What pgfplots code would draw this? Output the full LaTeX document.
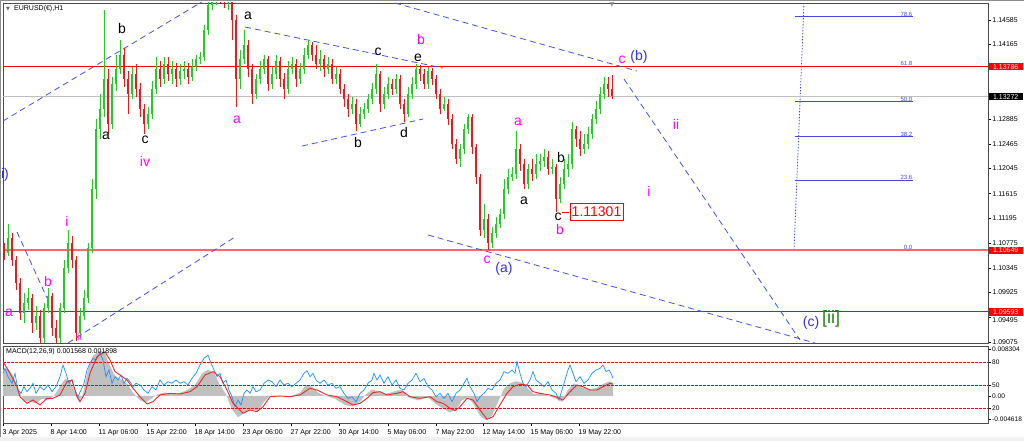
\documentclass[border=0pt]{standalone}
\usepackage{fontspec}
\setmainfont{Liberation Sans}
\newfontfamily\dejavu{DejaVu Sans}
\usepackage{pgfplots}
\usepackage{pgfplotstable}
\pgfplotsset{compat=1.18}
\definecolor{upc}{RGB}{40,200,40}
\definecolor{dnc}{RGB}{235,25,25}
\definecolor{wblue}{RGB}{50,50,225}
\definecolor{lblue}{RGB}{70,80,235}
\definecolor{wmag}{RGB}{255,0,255}
\definecolor{wgreen}{RGB}{40,130,20}
\definecolor{macdgray}{RGB}{192,192,192}
\definecolor{sigred}{RGB}{235,40,40}
\definecolor{stblue}{RGB}{30,144,255}
\definecolor{fibblue}{RGB}{70,70,225}
\newcommand{\tf}{\fontsize{7}{8}\selectfont}
\newcommand{\mf}{\fontsize{6.6}{7}\selectfont}
\newcommand{\wl}{\fontsize{14}{14}\selectfont}

\pgfplotstableread{
x o h l c
8 1.10595 1.11105 1.10544 1.1085
24 1.09575 1.09915 1.09405 1.09745
28 1.09745 1.1000 1.09626 1.0983
36 1.09405 1.09694 1.09286 1.09524
44 1.0915 1.09745 1.09065 1.0966
48 1.0966 1.1000 1.09575 1.09864
60 1.0915 1.09745 1.09065 1.0966
64 1.0966 1.10476 1.09575 1.1034
68 1.1034 1.10986 1.10255 1.10765
80 1.09235 1.0966 1.0915 1.09524
84 1.09524 1.09966 1.09456 1.0983
88 1.0983 1.10765 1.09745 1.1068
92 1.1068 1.1187 1.10595 1.1170
96 1.1170 1.1289 1.1153 1.1272
100 1.1272 1.13315 1.1255 1.1306
104 1.1306 1.1476 1.12924 1.1357
112 1.12805 1.13604 1.1272 1.13485
116 1.13485 1.13995 1.13366 1.1374
120 1.1374 1.1425 1.13655 1.13995
132 1.13315 1.13774 1.1323 1.13655
148 1.12805 1.13094 1.1272 1.12975
152 1.12975 1.13536 1.1289 1.1340
156 1.1340 1.13944 1.13315 1.1374
164 1.1357 1.13944 1.13485 1.13825
172 1.13655 1.13876 1.13485 1.1374
180 1.1357 1.13825 1.13468 1.13706
184 1.13706 1.13876 1.1357 1.1374
192 1.13604 1.1391 1.13536 1.13774
196 1.13774 1.13995 1.13706 1.1391
200 1.1391 1.14046 1.13825 1.13944
204 1.13944 1.14505 1.13876 1.1442
208 1.1442 1.15015 1.14335 1.14845
212 1.14845 1.1510 1.1476 1.1493
216 1.1493 1.15134 1.14845 1.15015
228 1.14896 1.15032 1.1476 1.14964
240 1.1357 1.1408 1.1340 1.1391
244 1.1391 1.1442 1.13825 1.14165
256 1.13315 1.13655 1.1323 1.1357
260 1.1357 1.13876 1.13485 1.1374
264 1.1374 1.13995 1.13655 1.1391
272 1.13485 1.13774 1.1340 1.13655
276 1.13655 1.13995 1.1357 1.13876
288 1.1340 1.13876 1.13315 1.1374
292 1.1374 1.13961 1.13655 1.13825
300 1.1357 1.13842 1.13485 1.1374
304 1.1374 1.14114 1.13655 1.13995
308 1.13995 1.1425 1.1391 1.14165
320 1.13825 1.1408 1.13706 1.1391
328 1.1374 1.13944 1.13655 1.13825
336 1.1357 1.13774 1.13485 1.13655
352 1.1306 1.13264 1.12975 1.13145
360 1.12805 1.13094 1.12754 1.12975
364 1.12975 1.13162 1.1289 1.1306
368 1.1306 1.13315 1.12992 1.1323
372 1.1323 1.13502 1.13145 1.1340
376 1.1340 1.13825 1.13315 1.13655
384 1.13145 1.13434 1.1306 1.13315
388 1.13315 1.13604 1.1323 1.13485
396 1.1340 1.13655 1.13315 1.1357
408 1.12975 1.13434 1.12924 1.13315
412 1.13315 1.13604 1.1323 1.13485
416 1.13485 1.13825 1.1340 1.1374
428 1.13485 1.13774 1.1340 1.13706
444 1.1306 1.13264 1.13026 1.13145
460 1.1221 1.12465 1.12074 1.1238
464 1.1238 1.12805 1.12295 1.1272
468 1.1272 1.12975 1.12635 1.12924
484 1.10986 1.11445 1.1085 1.1119
492 1.10765 1.11054 1.1068 1.10935
496 1.10935 1.11224 1.1085 1.11105
500 1.11105 1.1136 1.1102 1.11275
504 1.11275 1.1187 1.1119 1.1170
508 1.1170 1.1204 1.11615 1.11904
512 1.11904 1.12074 1.11836 1.11955
516 1.11955 1.12686 1.1187 1.1238
528 1.11785 1.12125 1.1170 1.1204
536 1.11955 1.12295 1.1187 1.12125
540 1.12125 1.12295 1.12006 1.12176
544 1.12176 1.1238 1.12074 1.12244
552 1.1204 1.1221 1.11955 1.12074
560 1.1153 1.11904 1.11462 1.11785
564 1.11785 1.1221 1.1170 1.1204
568 1.1204 1.12295 1.11904 1.12125
572 1.12125 1.12839 1.1204 1.1272
584 1.1238 1.12635 1.12295 1.12465
588 1.12465 1.12754 1.1238 1.12635
592 1.12635 1.12975 1.1255 1.1289
596 1.1289 1.13196 1.12805 1.1306
600 1.1306 1.13434 1.12975 1.13315
604 1.13315 1.13604 1.1323 1.13485
}\uptab

\pgfplotstableread{
x o h l c
4 1.1068 1.10765 1.10476 1.10595
12 1.1085 1.10935 1.10374 1.10476
16 1.10476 1.10544 1.09966 1.10085
20 1.10085 1.1017 1.09456 1.09575
32 1.0983 1.09898 1.09235 1.09405
40 1.09524 1.09626 1.09048 1.0915
52 1.09864 1.09915 1.09184 1.0932
56 1.0932 1.09456 1.09048 1.0915
72 1.10765 1.10884 1.1034 1.10476
76 1.10476 1.10544 1.09099 1.09235
108 1.1357 1.1374 1.12635 1.12805
124 1.13995 1.14114 1.13434 1.1357
128 1.1357 1.13706 1.12975 1.13315
136 1.13655 1.13825 1.13264 1.1340
140 1.1340 1.13502 1.12924 1.1306
144 1.1306 1.13145 1.12635 1.12805
160 1.1374 1.13876 1.13434 1.1357
168 1.13825 1.13944 1.13536 1.13655
176 1.1374 1.13842 1.13434 1.1357
188 1.1374 1.13842 1.13485 1.13604
220 1.15015 1.1510 1.14879 1.14981
224 1.14981 1.15066 1.14794 1.14896
232 1.14964 1.15015 1.1425 1.1459
236 1.1459 1.14675 1.13094 1.1357
248 1.14165 1.1425 1.13604 1.1374
252 1.1374 1.13825 1.13145 1.13315
268 1.1391 1.13978 1.13366 1.13485
280 1.13876 1.13944 1.13434 1.1357
284 1.1357 1.13672 1.1323 1.1340
296 1.13825 1.1391 1.13434 1.1357
312 1.14165 1.14216 1.13876 1.13995
316 1.13995 1.14165 1.1374 1.13825
324 1.1391 1.13995 1.13604 1.1374
332 1.13825 1.1391 1.13485 1.1357
340 1.13655 1.1374 1.13315 1.1340
344 1.1340 1.13485 1.13094 1.1323
348 1.1323 1.13315 1.12924 1.1306
356 1.13145 1.1323 1.12686 1.12805
380 1.13655 1.13706 1.13009 1.13145
392 1.13485 1.1357 1.13298 1.1340
400 1.1357 1.13638 1.1306 1.13145
404 1.13145 1.1323 1.12839 1.12975
420 1.1374 1.13808 1.13536 1.13655
424 1.13655 1.1374 1.1340 1.13485
432 1.13706 1.13757 1.13468 1.1357
436 1.1357 1.13638 1.1323 1.13315
440 1.13315 1.1340 1.12975 1.1306
448 1.13145 1.1323 1.12788 1.1289
452 1.1289 1.12975 1.1238 1.12465
456 1.12465 1.1255 1.12125 1.1221
472 1.12924 1.12975 1.12295 1.12414
476 1.12414 1.12465 1.11785 1.11904
480 1.11904 1.11955 1.10884 1.10986
488 1.1119 1.11275 1.1065 1.10765
520 1.1238 1.12465 1.12006 1.12125
524 1.12125 1.1221 1.1170 1.11785
532 1.1204 1.1221 1.11836 1.11955
548 1.12244 1.12346 1.11938 1.1204
556 1.12074 1.12125 1.1130 1.1153
576 1.1272 1.12771 1.12414 1.1255
580 1.1255 1.12686 1.12261 1.1238
608 1.13485 1.13604 1.13264 1.1340
612 1.1340 1.13638 1.1323 1.13281
}\dntab

\begin{document}
\begin{tikzpicture}
\useasboundingbox (0,0) rectangle (1024pt,441pt);
\fill[white] (0,0) rectangle (1024pt,441pt);
\fill[black!6] (0,0) rectangle (1024pt,4pt);
\draw[black!45, line width=1pt] (0.5pt,4pt) -- (0.5pt,440.5pt) -- (1024pt,440.5pt);

\begin{axis}[
  at={(3pt,98pt)}, anchor=south west, scale only axis,
  width=985pt, height=340pt,
  xmin=3, xmax=988, ymin=1.09062, ymax=1.14876,
  clip mode=individual,
  xtick=\empty,
  ytick={1.14585,1.14165,1.13745,1.13325,1.12885,1.12465,1.12045,1.11615,1.11195,1.10775,1.10345,1.09925,1.09495,1.09075},
  yticklabels={1.14585,1.14165,,,1.12885,1.12465,1.12045,1.11615,1.11195,1.10775,1.10345,1.09925,,1.09075},
  scaled y ticks=false,
  ytick pos=right, yticklabel pos=right,
  tick align=outside, major tick length=3pt,
  tick style={black, line width=0.5pt},
  y tick label style={font=\tf, anchor=west, inner xsep=1.2pt},
  axis line style={black!70, line width=0.8pt},
]
% fib levels
\addplot[fibblue, line width=1pt] coordinates {(795,1.14639) (913,1.14639)};
\addplot[fibblue, line width=1pt] coordinates {(795,1.13786) (913,1.13786)};
\addplot[fibblue, line width=1pt] coordinates {(795,1.13187) (913,1.13187)};
\addplot[fibblue, line width=1pt] coordinates {(795,1.12588) (913,1.12588)};
\addplot[fibblue, line width=1pt] coordinates {(795,1.11847) (913,1.11847)};
\addplot[fibblue, line width=1pt] coordinates {(795,1.10649) (913,1.10649)};
\addplot[fibblue, line width=0.8pt, dash pattern=on 1.5pt off 1.5pt] coordinates {(794,1.10649) (804,1.14876)};
% horizontal lines
\addplot[black!25, line width=0.8pt] coordinates {(3,1.13272) (988,1.13272)};
\addplot[red, line width=0.9pt] coordinates {(3,1.13786) (988,1.13786)};
\addplot[red!60, line width=1.6pt] coordinates {(3,1.10649) (988,1.10649)};
\addplot[red, line width=0.9pt] coordinates {(3,1.09593) (988,1.09593)};
% trend lines
\addplot[lblue, line width=0.8pt, dash pattern=on 6pt off 4pt] coordinates {(3,1.12858) (205,1.14927)};
\addplot[lblue, line width=0.8pt, dash pattern=on 6pt off 4pt] coordinates {(17,1.10960) (47,1.09831)};
\addplot[lblue, line width=0.8pt, dash pattern=on 6pt off 4pt] coordinates {(68,1.09062) (235,1.10874)};
\addplot[lblue, line width=0.8pt, dash pattern=on 6pt off 4pt] coordinates {(245,1.14465) (443,1.13764)};
\addplot[lblue, line width=0.8pt, dash pattern=on 6pt off 4pt] coordinates {(302,1.12430) (423,1.12892)};
\addplot[lblue, line width=0.8pt, dash pattern=on 6pt off 4pt] coordinates {(395,1.14876) (637,1.13713)};
\addplot[lblue, line width=0.8pt, dash pattern=on 6pt off 4pt] coordinates {(624,1.13576) (800,1.09113)};
\addplot[lblue, line width=0.8pt, dash pattern=on 6pt off 4pt] coordinates {(428,1.10909) (815,1.09062)};
% candles
\addplot[draw=none, mark=none, error bars/.cd, y dir=minus, y explicit, error mark=none, error bar style={line width=0.7pt, draw=upc, solid}]
  table[x=x, y=h, y error expr=\thisrow{h}-\thisrow{l}] {\uptab};
\addplot[draw=none, mark=none, error bars/.cd, y dir=minus, y explicit, error mark=none, error bar style={line width=0.7pt, draw=dnc, solid}]
  table[x=x, y=h, y error expr=\thisrow{h}-\thisrow{l}] {\dntab};
\addplot[draw=none, mark=none, error bars/.cd, y dir=minus, y explicit, error mark=none, error bar style={line width=2pt, draw=upc, solid}]
  table[x=x, y=c, y error expr=\thisrow{c}-\thisrow{o}] {\uptab};
\addplot[draw=none, mark=none, error bars/.cd, y dir=minus, y explicit, error mark=none, error bar style={line width=2pt, draw=dnc, solid}]
  table[x=x, y=o, y error expr=\thisrow{o}-\thisrow{c}] {\dntab};
\addplot[red, line width=0.8pt] coordinates {(562,1.11302) (569,1.11302)};

% fib labels
\node[anchor=south east, text=fibblue, font=\fontsize{6}{6}\selectfont, inner sep=0.5pt] at (axis cs:913,1.14639) {78.6};
\node[anchor=south east, text=fibblue, font=\fontsize{6}{6}\selectfont, inner sep=0.5pt] at (axis cs:913,1.13786) {61.8};
\node[anchor=south east, text=fibblue, font=\fontsize{6}{6}\selectfont, inner sep=0.5pt] at (axis cs:913,1.13187) {50.0};
\node[anchor=south east, text=fibblue, font=\fontsize{6}{6}\selectfont, inner sep=0.5pt] at (axis cs:913,1.12588) {38.2};
\node[anchor=south east, text=fibblue, font=\fontsize{6}{6}\selectfont, inner sep=0.5pt] at (axis cs:913,1.11847) {23.6};
\node[anchor=south east, text=fibblue, font=\fontsize{6}{6}\selectfont, inner sep=0.5pt] at (axis cs:913,1.10649) {0.0};

% title
\node[anchor=west, text=black!60, font=\dejavu\fontsize{5}{5}\selectfont, inner sep=0pt] at (axis cs:6,1.14773) {▼};
\node[anchor=west, font=\tf, inner sep=0pt] at (axis cs:14,1.14773) {EURUSD(€),H1};
\node[text=black!45, font=\dejavu\fontsize{6}{6}\selectfont, inner sep=0pt] at (axis cs:612,1.14842) {▼};

% wave labels
\node[font=\wl] at (axis cs:122,1.14448) {b};
\node[font=\wl] at (axis cs:106,1.12601) {a};
\node[font=\wl] at (axis cs:145,1.12533) {c};
\node[font=\wl, text=wmag] at (axis cs:145,1.12174) {iv};
\node[font=\wl] at (axis cs:248,1.14653) {a};
\node[font=\wl, text=wmag] at (axis cs:237,1.12875) {a};
\node[font=\wl] at (axis cs:378,1.14038) {c};
\node[font=\wl, text=wmag] at (axis cs:421,1.14260) {b};
\node[font=\wl] at (axis cs:418,1.13935) {e};
\node[font=\wl] at (axis cs:358,1.12499) {b};
\node[font=\wl] at (axis cs:404,1.12653) {d};
\node[font=\wl, text=wmag] at (axis cs:518,1.12841) {a};
\node[font=\wl, text=wmag] at (axis cs:622,1.13901) {c};
\node[font=\wl, text=wblue] at (axis cs:639,1.13952) {(b)};
\node[font=\wl, text=wmag] at (axis cs:676,1.12807) {ii};
\node[font=\wl, text=wmag] at (axis cs:649,1.11661) {i};
\node[font=\wl] at (axis cs:561,1.12242) {b};
\node[font=\wl] at (axis cs:524,1.11490) {a};
\node[font=\wl] at (axis cs:558,1.11216) {c};
\node[font=\wl, text=wmag] at (axis cs:560,1.11011) {b};
\node[font=\wl, text=red, draw=red, fill=white, inner xsep=2pt, inner ysep=1pt, minimum height=17pt] at (axis cs:596.5,1.11302) {1.11301};
\node[font=\wl, text=wmag] at (axis cs:487,1.10481) {c};
\node[font=\wl, text=wblue] at (axis cs:504,1.10327) {(a)};
\node[font=\wl, text=wblue] at (axis cs:811,1.09404) {(c)};
\node[font=\fontsize{18}{18}\selectfont, text=wgreen] at (axis cs:831,1.09480) {[ii]};
\node[font=\wl, text=wmag] at (axis cs:67,1.11148) {i};
\node[font=\wl, text=wmag] at (axis cs:48,1.10122) {b};
\node[font=\wl, text=wmag] at (axis cs:9,1.09575) {a};
\node[font=\fontsize{10}{10}\selectfont, text=wmag, inner sep=0pt] at (axis cs:80,1.09160) {ii};
\begin{scope}
\clip (axis cs:3,1.09062) rectangle (axis cs:988,1.14876);
\node[font=\wl, text=wblue] at (axis cs:5,1.11934) {i)};
\end{scope}

% price boxes
\node[anchor=west, fill=red, text=white, font=\tf, inner xsep=1.5pt, inner ysep=1.2pt, minimum width=34pt, xshift=0.5pt] at (axis cs:988,1.13786) {1.13786};
\node[anchor=west, fill=black, text=white, font=\tf, inner xsep=1.5pt, inner ysep=1.2pt, minimum width=34pt, xshift=0.5pt] at (axis cs:988,1.13272) {1.13272};
\node[anchor=west, fill=red, text=white, font=\tf, inner xsep=1.5pt, inner ysep=1.2pt, minimum width=34pt, xshift=0.5pt] at (axis cs:988,1.10649) {1.10649};
\node[anchor=west, fill=red, text=white, font=\tf, inner xsep=1.5pt, inner ysep=1.2pt, minimum width=34pt, xshift=0.5pt] at (axis cs:988,1.09593) {1.09593};
\node[anchor=north west, font=\tf, inner xsep=1.2pt, inner ysep=0.5pt, xshift=3pt, yshift=-5pt] at (axis cs:988,1.09593) {1.09495};
\end{axis}

\begin{axis}[
  at={(3pt,18pt)}, anchor=south west, scale only axis,
  width=985pt, height=77pt,
  xmin=3, xmax=988, ymin=0.4, ymax=100.9,
  clip mode=individual,
  xtick={3,51,99,147,195,243,291,339,388,436,483,531,579},
  xticklabels={3 Apr 2025,8 Apr 14:00,11 Apr 06:00,15 Apr 22:00,18 Apr 14:00,23 Apr 06:00,27 Apr 22:00,30 Apr 14:00,5 May 06:00,7 May 22:00,12 May 14:00,15 May 06:00,19 May 22:00},
  xtick pos=bottom,
  x tick label style={font=\tf, anchor=north west, xshift=-1.5pt, inner xsep=1pt},
  ytick={5.65,20,35.65,50,80,96.96},
  yticklabels={-0.004618,20,0.00,50,80,0.008304},
  ytick pos=right, yticklabel pos=right,
  y tick label style={font=\mf, anchor=west, inner xsep=1pt},
  tick align=outside, major tick length=3pt,
  tick style={black, line width=0.5pt},
  axis line style={black!70, line width=0.8pt},
]
\addplot[fill=macdgray, draw=none] coordinates {
(3,35.65) (3,70) (8,72) (13,62) (17,50) (20,40) (24,30) (30,28) (36,26) (42,32) (48,30) (54,36) (60,48) (65,58) (70,56) (75,40) (79,28) (83,38) (88,70) (93,88) (100,95) (105,92) (110,75) (115,62) (120,58) (127,52) (133,40) (140,30) (146,27) (152,33) (158,38) (165,40) (175,38) (185,42) (195,50) (202,65) (208,70) (214,66) (220,50) (226,38) (232,18) (238,8) (245,14) (252,18) (258,16) (264,28) (270,36) (280,36) (290,35) (300,40) (306,50) (312,48) (318,40) (325,36) (335,32) (345,24) (352,22) (360,28) (366,38) (372,44) (378,42) (385,38) (395,42) (402,44) (408,34) (418,30) (428,34) (435,26) (442,20) (450,14) (456,18) (462,30) (468,34) (474,24) (480,10) (486,4) (492,10) (498,28) (504,45) (510,52) (516,55) (522,53) (528,45) (534,38) (540,40) (548,36) (556,32) (562,28) (568,44) (574,52) (580,48) (588,44) (596,46) (604,52) (610,55) (613,53) (613,35.65)
} -- cycle;
\addplot[red, line width=0.6pt, dash pattern=on 2.5pt off 1.5pt] coordinates {(3,80) (988,80)};
\addplot[red, line width=0.6pt, dash pattern=on 2.5pt off 1.5pt] coordinates {(3,50) (988,50)};
\addplot[red, line width=0.6pt, dash pattern=on 2.5pt off 1.5pt] coordinates {(3,20) (988,20)};
\addplot[stblue, line width=0.7pt] coordinates {
(3,65.2) (5,71.7) (8,60.8) (12,52.2) (15,65.2) (18,43.5) (21,39.1) (24,47.8) (27,41.3) (30,45.7) (33,52.2) (36,39.1) (40,47.8) (44,43.5) (48,50) (52,41.3) (56,47.8) (60,60.8) (63,76.1) (66,65.2) (69,52.2) (72,56.5) (75,43.5) (78,34.7) (81,43.5) (84,52.2) (87,69.6) (90,78.3) (93,84.8) (96,82.6) (100,92.1) (103,82.6) (106,60.8) (109,69.6) (112,52.2) (115,60.8) (118,56.5) (121,63) (124,52.2) (127,58.7) (130,54.3) (133,47.8) (136,52.2) (140,50) (144,43.5) (148,39.1) (152,47.8) (156,43.5) (160,56.5) (164,50) (168,54.3) (172,52.2) (176,56.5) (180,52.2) (184,54.3) (188,50) (192,58.7) (196,65.2) (200,76.1) (204,84.8) (208,89.1) (211,78.3) (214,69.6) (217,60.8) (220,65.2) (223,52.2) (226,56.5) (229,43.5) (232,34.7) (235,21.7) (238,30.4) (241,23.9) (244,39.1) (247,43.5) (250,39.1) (253,47.8) (256,41.3) (260,43.5) (264,52.2) (268,56.5) (272,54.3) (276,47.8) (280,56.5) (284,50) (288,52.2) (292,47.8) (296,52.2) (300,56.5) (304,65.2) (307,68.7) (310,60.8) (313,65.2) (316,56.5) (320,52.2) (324,56.5) (328,50) (332,52.2) (336,45.7) (340,47.8) (344,39.1) (348,32.6) (352,34.7) (356,28.2) (360,39.1) (364,43.5) (368,52.2) (372,56.5) (374,65.2) (377,56.5) (380,63) (384,52.2) (388,60.8) (392,50) (396,56.5) (400,45.7) (404,43.5) (408,52.2) (412,56.5) (416,65.2) (420,54.3) (424,58.7) (428,47.8) (432,43.5) (436,34.7) (440,39.1) (444,32.6) (448,39.1) (452,28.2) (456,39.1) (460,43.5) (464,52.2) (467,58.7) (470,47.8) (474,39.1) (477,28.2) (480,34.7) (484,39.1) (488,45.7) (492,43.5) (496,52.2) (500,56.5) (504,67.4) (508,65.2) (512,69.6) (515,65.2) (517,80.4) (520,65.2) (523,52.2) (526,47.8) (530,56.5) (533,67.4) (536,56.5) (540,52.2) (544,47.8) (548,54.3) (552,43.5) (556,39.1) (559,30.4) (562,43.5) (565,56.5) (568,69.6) (570,76.1) (573,65.2) (576,54.3) (580,60.8) (584,52.2) (588,56.5) (592,65.2) (596,69.6) (600,71.7) (603,76.1) (606,67.4) (609,69.6) (611,65.2) (613,58.7)
};
\addplot[sigred, line width=0.9pt] coordinates {
(3,80.4) (10,65.2) (17,47.8) (20,34.7) (27,26.1) (33,30.4) (40,23.9) (47,32.6) (53,32.6) (60,37) (67,54.3) (72,56.5) (77,34.7) (80,28.2) (85,39.1) (90,65.2) (97,86.9) (105,93.4) (110,82.6) (115,67.4) (120,63) (127,56.5) (133,45.7) (140,34.7) (147,25.2) (153,28.2) (160,37) (170,39.1) (180,38.3) (190,41.3) (197,47.8) (205,63) (213,67.4) (220,60.8) (227,43.5) (233,26.1) (243,13.1) (250,17.4) (257,15.2) (263,21.7) (270,34.7) (280,35.6) (290,34.7) (300,37) (310,45.7) (317,43.5) (327,37) (337,34.7) (347,28.2) (353,23.9) (360,26.1) (367,32.6) (373,40) (380,41.3) (387,37) (397,39.1) (403,41.3) (410,34.7) (420,32.6) (430,34.7) (437,28.2) (443,26.1) (450,19.6) (455,16.5) (460,21.7) (467,32.6) (473,30.4) (480,17.4) (487,5.2) (493,8.6) (500,23.9) (507,39.1) (513,47.8) (520,50.9) (527,50) (533,41.3) (540,39.1) (550,37) (557,34) (563,30.4) (570,41.3) (577,50) (583,47.8) (590,43.5) (597,43.5) (603,47.8) (610,52.2) (613,50.9)
};
\node[anchor=west, font=\tf, inner sep=0pt] at (axis cs:6,93) {MACD(12,26,9) 0.001568 0.001898};
\end{axis}
\end{tikzpicture}
\end{document}
